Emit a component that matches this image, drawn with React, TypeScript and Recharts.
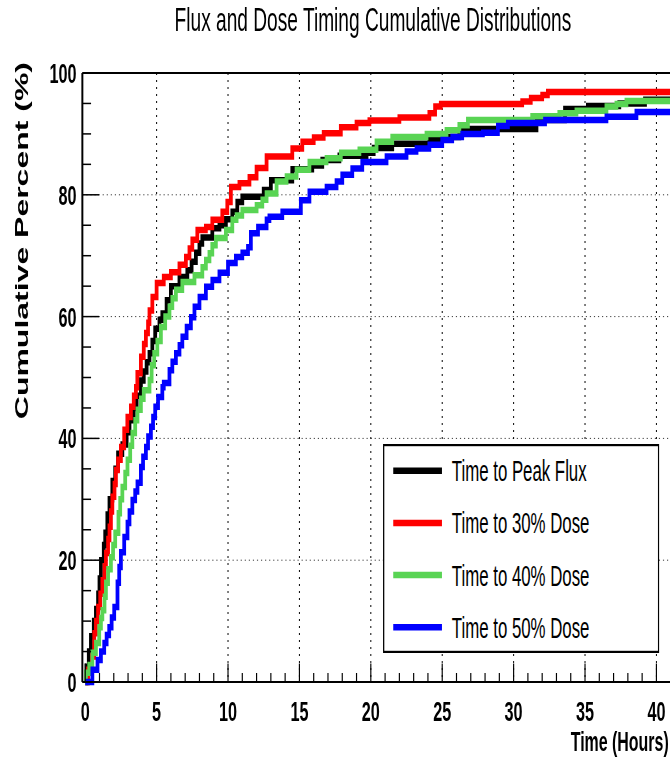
import React from 'react';
import { LineChart, Line, XAxis, YAxis, CartesianGrid, Legend, ReferenceLine } from 'recharts';

// cumulative step curves: [time in hours, cumulative percent]
const peakFlux: [number, number][] = [
  [0, 0], [0.1, 2.5], [0.25, 5], [0.4, 7.5], [0.6, 10], [0.75, 12], [0.9, 14.5], [1.0, 17],
  [1.1, 20], [1.3, 22.5], [1.4, 24.5], [1.55, 27.5], [1.7, 30], [1.9, 33], [2.1, 35], [2.3, 37.5],
  [2.6, 39], [2.9, 41], [3.1, 43], [3.4, 45], [3.6, 47], [3.9, 49.5], [4.1, 51], [4.3, 52.5],
  [4.5, 54], [4.7, 56], [4.9, 58], [5.2, 59.5], [5.4, 60.5], [5.7, 62.7], [6.0, 65], [6.6, 66.5],
  [7.15, 67.6], [7.45, 69], [7.75, 70.5], [8.0, 72], [8.2, 73], [8.9, 74.5], [9.4, 75], [9.85, 76],
  [10.3, 77.2], [10.65, 78.8], [11.0, 79.7], [12.5, 80.8], [13.0, 82.4], [14.5, 84.2], [15.9, 84.8],
  [16.6, 85.7], [17.8, 86.4], [19.7, 86.9], [20.2, 87.7], [21.5, 88.4], [24.1, 89], [24.8, 89.5],
  [26.2, 90.6], [27.0, 90.8], [31.6, 92.3], [33.6, 94.1], [35.2, 94.6], [37.4, 95], [39.2, 95.6],
  [42, 95.6],
];

const dose30: [number, number][] = [
  [0, 0], [0.2, 2], [0.47, 4.2], [0.63, 8], [0.75, 10], [0.9, 12.3], [1.05, 14.5], [1.2, 16.7],
  [1.35, 19], [1.45, 21.2], [1.6, 23.5], [1.7, 25.5], [1.8, 28], [1.9, 30.4], [2.05, 32.5],
  [2.15, 34.8], [2.3, 36.5], [2.5, 38.6], [2.73, 41.4], [2.95, 43.5], [3.2, 45.2], [3.4, 47],
  [3.55, 48.4], [3.65, 50.7], [3.9, 53.4], [4.1, 55.5], [4.25, 57.3], [4.4, 59], [4.5, 61],
  [4.7, 63.2], [5.0, 65.5], [5.5, 66.5], [6.0, 67.3], [6.6, 68.5], [7.05, 69.8], [7.3, 71.2],
  [7.5, 72.6], [7.85, 74.2], [8.45, 74.7], [8.9, 75.9], [9.6, 77.2], [9.95, 78.8], [10.2, 81.3],
  [10.8, 81.9], [11.5, 82.9], [12.0, 84.4], [12.7, 86.3], [14.5, 87.6], [15.2, 88.7], [16.0, 89.4],
  [16.7, 90.1], [17.9, 91.1], [19.0, 91.8], [19.9, 92.2], [22.0, 92.7], [24.1, 93.4], [24.5, 94.5],
  [24.9, 94.9], [30.6, 95.3], [31.2, 95.9], [32.0, 96.4], [32.4, 96.9], [42, 96.9],
];

const dose40: [number, number][] = [
  [0, 0], [0.05, 1.5], [0.28, 2.8], [0.5, 4.8], [0.75, 6.4], [0.98, 9], [1.1, 10.5], [1.2, 11.8],
  [1.35, 14], [1.45, 16.3], [1.6, 18.5], [1.8, 20.5], [1.95, 22.5], [2.1, 24.5], [2.33, 27.7],
  [2.45, 30], [2.6, 32], [2.8, 34.3], [2.96, 36.5], [3.15, 38.8], [3.3, 40.9], [3.5, 43],
  [3.66, 44.7], [3.9, 46.5], [4.1, 47.9], [4.5, 49.6], [4.65, 52], [4.83, 54], [5.05, 56],
  [5.3, 58.3], [5.6, 60], [5.9, 61.6], [6.1, 63], [6.35, 64.4], [6.8, 65.7], [7.65, 66.8],
  [8.2, 68.1], [8.45, 69.3], [8.7, 70.4], [8.9, 71.7], [9.15, 72.9], [9.85, 74.2], [10.3, 75.9],
  [10.6, 76.6], [11.0, 77.5], [12.0, 78.3], [12.4, 79.2], [12.7, 80.2], [13.4, 82.2], [14.1, 83],
  [14.8, 84.1], [15.7, 85.4], [16.9, 86], [17.9, 86.9], [19.2, 87.4], [20.4, 88.7], [21.5, 89.5],
  [23.9, 90], [25.3, 90.6], [26.2, 91.4], [26.8, 92.3], [31.3, 92.9], [33.2, 93.4], [34.4, 93.8],
  [36.5, 94.5], [37.2, 94.9], [37.9, 95.4], [42, 95.4],
];

const dose50: [number, number][] = [
  [0, 0], [0.5, 2], [0.86, 3.6], [1.1, 5], [1.33, 6.4], [1.5, 7.7], [1.68, 9], [1.85, 10.6],
  [2.03, 12.3], [2.26, 16.3], [2.38, 18.9], [2.5, 21.3], [2.73, 23.8], [2.96, 26.1], [3.1, 28],
  [3.3, 29.9], [3.5, 31.3], [3.66, 32.7], [3.9, 35.3], [4.05, 37], [4.25, 38.6], [4.4, 40.3],
  [4.6, 41.9], [4.75, 43.5], [4.9, 45.2], [5.1, 46.8], [5.4, 48.4], [5.5, 49.1], [5.9, 51.2],
  [6.1, 52.6], [6.35, 54], [6.6, 55.3], [6.8, 56.7], [7.1, 58.3], [7.4, 59.9], [7.65, 61.6],
  [8.0, 63.2], [8.45, 64.9], [8.9, 66], [9.4, 67.2], [10.0, 68.8], [10.55, 69.8], [11.0, 70.5],
  [11.4, 71.4], [11.6, 73.7], [12.1, 74.7], [12.7, 75.9], [12.9, 76.4], [13.8, 77.2], [15.1, 79.1],
  [15.7, 80.5], [16.9, 81.3], [17.6, 82.2], [18.0, 83.3], [18.7, 84.3], [19.4, 85.4], [21.1, 86.3],
  [22.5, 87.1], [23.2, 87.6], [24.1, 88.2], [25.0, 89], [25.7, 89.5], [26.4, 90], [27.85, 90.2],
  [28.9, 91.3], [29.6, 91.8], [32.2, 92.3], [36.5, 92.8], [38.6, 93.6], [42, 93.6],
];

const seriesNames = ['Time to Peak Flux', 'Time to 30% Dose', 'Time to 40% Dose', 'Time to 50% Dose'];
const seriesColors = ['#000000', '#ff0000', '#59d454', '#0000ff'];
const seriesData = [peakFlux, dose30, dose40, dose50];

const xMajor = [0, 5, 10, 15, 20, 25, 30, 35, 40];
const yMajor = [0, 20, 40, 60, 80, 100];
const xTicks = Array.from({ length: 43 }, (_, i) => i); // minor tick every hour
const yTicks = Array.from({ length: 21 }, (_, i) => i * 5); // minor tick every 5%

// the whole plot is drawn wide and squeezed horizontally
const SQUEEZE = 0.58;
const CHART_W = 1190;
const CHART_H = 757;
const FONT = '"Liberation Sans", Arial, Helvetica, sans-serif';

const XTick = ({ x, y, payload }: any) => {
  const major = xMajor.includes(payload.value);
  return (
    <g>
      <line x1={x} x2={x} y1={y} y2={y - (major ? 18.5 : 9)} stroke="#000" strokeWidth={2} />
      {major && (
        <text x={x} y={y + 39} textAnchor="middle" fontSize={28} fontWeight="bold" fontFamily={FONT} fill="#000">
          {payload.value}
        </text>
      )}
    </g>
  );
};

const YTick = ({ x, y, payload }: any) => {
  const major = yMajor.includes(payload.value);
  return (
    <g>
      <line x1={x} x2={x + (major ? 29 : 15)} y1={y} y2={y} stroke="#000" strokeWidth={1.5} />
      {major && (
        <text x={x - 10} y={y} dy="0.36em" textAnchor="end" fontSize={28} fontWeight="bold" fontFamily={FONT} fill="#000">
          {payload.value}
        </text>
      )}
    </g>
  );
};

const LegendBox = () => (
  <svg width={477} height={209} style={{ display: 'block' }}>
    <rect x={1.5} y={1.1} width={474} height={206.8} fill="#fff" stroke="#000" strokeWidth={2.2} />
    {seriesNames.map((name, i) => {
      const cy = 26.7 + i * 52.2;
      return (
        <g key={name}>
          <line x1={18} x2={102} y1={cy} y2={cy} stroke={seriesColors[i]} strokeWidth={6.5} />
          <text x={119} y={cy} dy="0.36em" fontSize={29} fontFamily={FONT} fill="#000">
            {name}
          </text>
        </g>
      );
    })}
  </svg>
);

export default function App() {
  const lines = seriesData.map((pts) => pts.map(([t, v]) => ({ t, v })));

  return (
    <div style={{ position: 'absolute', left: 0, top: 0, width: 670, height: 757, overflow: 'hidden', background: '#fff' }}>
      <div
        style={{
          position: 'relative',
          width: CHART_W,
          height: CHART_H,
          transform: `scaleX(${SQUEEZE})`,
          transformOrigin: '0 0',
          fontFamily: FONT,
        }}
      >
        <LineChart width={CHART_W} height={CHART_H} margin={{ top: 73, right: 9, bottom: 15, left: 0 }}>
          <CartesianGrid vertical={false} horizontalValues={[20, 40, 60, 80]} stroke="#000" strokeDasharray="2 5" strokeWidth={1} />
          <CartesianGrid
            horizontal={false}
            verticalValues={[5, 10, 15, 20, 25, 30, 35, 40]}
            stroke="#000"
            strokeDasharray="2 5"
            strokeWidth={1.7}
          />
          <XAxis
            type="number"
            dataKey="t"
            domain={[-0.2, 42]}
            ticks={xTicks}
            interval={0}
            height={60}
            tickSize={0}
            tickMargin={0}
            tickLine={false}
            tick={<XTick />}
            axisLine={{ stroke: '#000', strokeWidth: 2.2 }}
            allowDataOverflow
          />
          <YAxis
            type="number"
            domain={[0, 100]}
            ticks={yTicks}
            interval={0}
            width={142}
            tickSize={0}
            tickMargin={0}
            tickLine={false}
            tick={<YTick />}
            axisLine={{ stroke: '#000', strokeWidth: 3.4 }}
          />
          <ReferenceLine y={100} stroke="#000" strokeWidth={2.2} />
          {lines.map((data, i) => (
            <Line
              key={seriesNames[i]}
              data={data}
              dataKey="v"
              name={seriesNames[i]}
              type="stepAfter"
              stroke={seriesColors[i]}
              strokeWidth={6.5}
              dot={false}
              activeDot={false}
              isAnimationActive={false}
            />
          ))}
          <Legend
            layout="vertical"
            align="center"
            verticalAlign="middle"
            width={477}
            height={209}
            wrapperStyle={{ left: 660, top: 444 }}
            content={<LegendBox />}
          />
        </LineChart>
        <svg width={CHART_W} height={CHART_H} style={{ position: 'absolute', left: 0, top: 0, pointerEvents: 'none' }}>
          <text x={643} y={31} textAnchor="middle" fontSize={33} fontFamily={FONT} fill="#000">
            Flux and Dose Timing Cumulative Distributions
          </text>
          <text
            transform="translate(37, 62) rotate(-90)"
            textAnchor="end"
            dy="0.36em"
            fontSize={32}
            fontWeight="bold"
            fontFamily={FONT}
            fill="#000"
          >
            Cumulative Percent (%)
          </text>
          <text x={1153} y={751} textAnchor="end" fontSize={27.5} fontWeight="bold" fontFamily={FONT} fill="#000">
            Time (Hours)
          </text>
        </svg>
      </div>
    </div>
  );
}
